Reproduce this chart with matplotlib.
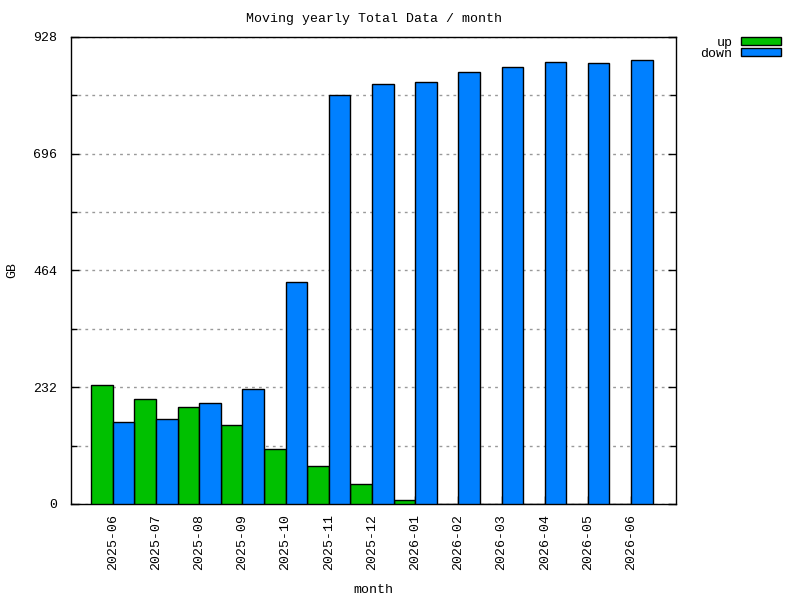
import matplotlib
matplotlib.use('Agg')
import matplotlib.pyplot as plt
import numpy as np

# Monthly data (GB)
months = ['2025-06', '2025-07', '2025-08', '2025-09', '2025-10', '2025-11', '2025-12',
          '2026-01', '2026-02', '2026-03', '2026-04', '2026-05', '2026-06']
up = [236, 208, 192, 156, 109, 75, 39, 8, 0, 0, 0, 0, 0]
down = [162, 168, 200, 228, 441, 812, 834, 838, 859, 867, 877, 875, 881]

plt.rcParams['font.family'] = ['Liberation Mono', 'DejaVu Sans Mono']
plt.rcParams['font.size'] = 9.5

fig = plt.figure(figsize=(8, 6), dpi=100)
ax = fig.add_axes([0.08875, 0.16, 0.845 - 0.08875, 0.9387 - 0.16])

x = np.arange(len(months))
w = 0.5
ax.bar(x - w, up, width=w, align='edge', color='#00c000', edgecolor='black',
       linewidth=1, label='up', zorder=3)
ax.bar(x, down, width=w, align='edge', color='#0080ff', edgecolor='black',
       linewidth=1, label='down', zorder=3)

ax.set_xlim(-0.97, len(months) - 1 + 1.04)
ax.set_ylim(0, 928)
ax.set_yticks([0, 232, 464, 696, 928])
ax.set_yticks([116, 348, 580, 812], minor=True)
ax.set_xticks(x)
ax.set_xticklabels(months, rotation=90)

ax.grid(True, axis='y', which='both', linestyle=(0, (2, 3)), color='#999999',
        linewidth=1, zorder=0)
ax.tick_params(axis='y', which='both', direction='in', right=True, length=6, width=1, pad=10)
ax.tick_params(axis='y', which='minor', length=4)
ax.tick_params(axis='x', direction='in', length=6, width=1, pad=7)
for s in ax.spines.values():
    s.set_linewidth(1)

ax.set_title('Moving yearly Total Data / month', fontsize=9.5, pad=11)
ax.set_xlabel('month')
ax.set_ylabel('GB')
ax.xaxis.set_label_coords(0.5, -0.171)
ax.yaxis.set_label_coords(-0.088, 0.5)

ax.legend(loc='upper right', bbox_to_anchor=(0.985, 0.95), bbox_transform=fig.transFigure,
          frameon=False, markerfirst=False, handlelength=3.1, handleheight=0.5,
          labelspacing=-0.05, handletextpad=0.6, borderpad=0)

fig.savefig('out.png', dpi=100)
